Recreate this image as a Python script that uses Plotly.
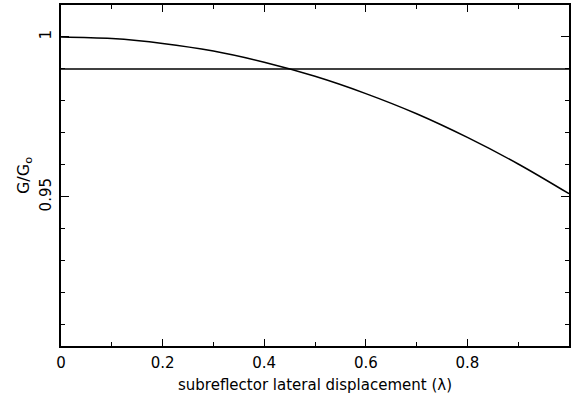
import plotly.graph_objects as go

# Data
disp = [0.0, 0.1, 0.2, 0.3, 0.4, 0.5, 0.6, 0.7, 0.8, 0.9, 1.0]
gain = [1.0, 0.9995, 0.998, 0.9956, 0.9921, 0.9877, 0.9823, 0.976, 0.9686, 0.9603, 0.951]
ref_x = [0.0, 1.0]
ref_y = [0.99, 0.99]
y_tickvals = [0.95, 1.0]
y_ticktext = ["0.95", "1"]
x_tickvals = [0, 0.2, 0.4, 0.6, 0.8]
x_ticktext = ["0", "0.2", "0.4", "0.6", "0.8"]

fig = go.Figure()
fig.add_trace(go.Scatter(x=disp, y=gain, mode="lines",
                         line=dict(color="black", width=1.5, shape="spline"),
                         showlegend=False))
fig.add_trace(go.Scatter(x=ref_x, y=ref_y, mode="lines",
                         line=dict(color="black", width=1.5),
                         showlegend=False))

font = dict(family="DejaVu Sans", size=14, color="black")
tickfont = dict(family="DejaVu Sans", size=15, color="black")
fig.update_layout(
    width=574, height=406,
    margin=dict(l=61, r=3, t=3, b=60),
    plot_bgcolor="white", paper_bgcolor="white",
    font=font,
    xaxis=dict(range=[0, 1], tickvals=x_tickvals, ticktext=x_ticktext,
               tickfont=tickfont,
               ticks="inside", ticklen=7, tickwidth=1.2, tickcolor="black",
               showline=True, linecolor="black", linewidth=1.5, mirror="ticks",
               showgrid=False, zeroline=False,
               minor=dict(dtick=0.1, ticks="inside", ticklen=4, tickwidth=1.2,
                          tickcolor="black", showgrid=False),
               title=dict(text="subreflector lateral displacement (λ)", standoff=9,
                          font=dict(family="DejaVu Sans", size=15, color="black")),
               ticklabelstandoff=2),
    yaxis=dict(range=[0.9034, 1.01], tickvals=y_tickvals, ticktext=y_ticktext,
               tickangle=-90, tickfont=tickfont,
               ticks="inside", ticklen=8, tickwidth=1.2, tickcolor="black",
               showline=True, linecolor="black", linewidth=1.5, mirror="ticks",
               showgrid=False, zeroline=False,
               minor=dict(dtick=0.01, tick0=0.9, ticks="inside", ticklen=4, tickwidth=1.2,
                          tickcolor="black", showgrid=False),
               title=dict(text="G/G<sub>o</sub>", standoff=4,
                          font=dict(family="DejaVu Sans", size=16, color="black")),
               ticklabelstandoff=2),
)

fig.write_html("out.html")
